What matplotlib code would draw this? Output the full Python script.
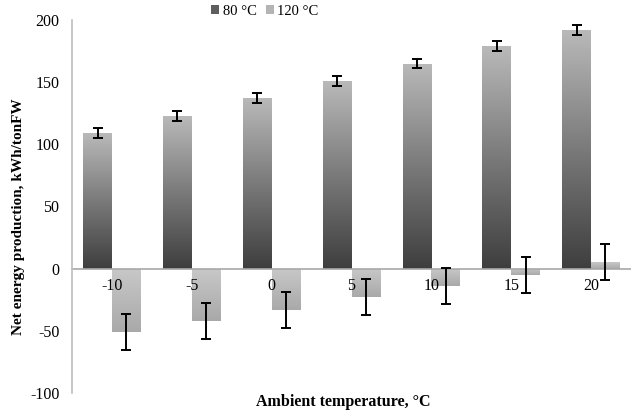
import numpy as np
import matplotlib.pyplot as plt
import matplotlib as mpl
from matplotlib.colors import LinearSegmentedColormap
from matplotlib.patches import Patch

mpl.rcParams.update({
    "font.family": ["Liberation Serif", "DejaVu Serif"],
    "font.size": 11,
    "axes.unicode_minus": False,
})

TEMPS = ["-10", "-5", "0", "5", "10", "15", "20"]
NET_80 = [109, 123, 137, 151, 165, 179, 192]
ERR_80 = [4, 4, 4, 4, 4, 4, 4]
NET_120 = [-51, -42, -33, -23, -14, -5, 5]
ERR_120 = [14.5, 14.5, 14.5, 14.5, 14.5, 14.5, 14.5]
SERIES = ["80 °C", "120 °C"]

CMAP_80 = LinearSegmentedColormap.from_list("g80", ["#3e3e3e", "#7a7a7a", "#b9b9b9"])
CMAP_120 = LinearSegmentedColormap.from_list("g120", ["#a9a9a9", "#c8c8c8"])


def gradient_bars(ax, bars, cmap):
    grad = np.linspace(0, 1, 256).reshape(-1, 1)
    for b in bars:
        x0, w = b.get_x(), b.get_width()
        y0, h = b.get_y(), b.get_height()
        lo, hi = min(y0, y0 + h), max(y0, y0 + h)
        img = ax.imshow(grad, cmap=cmap, aspect="auto", origin="lower",
                        extent=(x0, x0 + w, lo, hi), zorder=1,
                        interpolation="bicubic")
        img.set_clip_path(b)
        b.set_facecolor("none")


fig = plt.figure(figsize=(6.31, 4.12), dpi=100)
ax = fig.add_axes([72 / 631, 1 - 393 / 412, 1 - 72 / 631, (393 - 20) / 412])

x = np.arange(len(TEMPS))
w = 0.36
b80 = ax.bar(x - w / 2, NET_80, w, linewidth=0, zorder=1)
b120 = ax.bar(x + w / 2, NET_120, w, linewidth=0, zorder=1)
gradient_bars(ax, b80, CMAP_80)
gradient_bars(ax, b120, CMAP_120)

ax.errorbar(x - w / 2, NET_80, yerr=ERR_80, fmt="none", ecolor="black",
            elinewidth=1.4, capsize=3.5, capthick=1.4, zorder=3)
ax.errorbar(x + w / 2, NET_120, yerr=ERR_120, fmt="none", ecolor="black",
            elinewidth=1.4, capsize=3.5, capthick=1.4, zorder=3)

ax.set_xlim(-0.5, len(TEMPS) - 0.5)
ax.set_ylim(-100, 200)
ax.set_yticks([-100, -50, 0, 50, 100, 150, 200])
ax.set_xticks(x)
ax.set_xticklabels(TEMPS)
ax.tick_params(axis="y", length=0, pad=9, labelsize=11.5)
ax.tick_params(axis="x", length=0, pad=7, labelsize=11.5)

for s in ["top", "right"]:
    ax.spines[s].set_visible(False)
ax.spines["left"].set_color("#bfbfbf")
ax.spines["left"].set_linewidth(1.2)
ax.spines["bottom"].set_position(("data", 0))
ax.spines["bottom"].set_color("#a8a8a8")
ax.spines["bottom"].set_linewidth(1.2)
ax.spines["bottom"].set_zorder(2)

handles = [Patch(facecolor="#5e5e5e", edgecolor="none"),
           Patch(facecolor="#b4b4b4", edgecolor="none")]
fig.legend(handles, SERIES, loc="center", bbox_to_anchor=(0.42, 0.973),
           ncol=2, frameon=False, fontsize=10.5, handlelength=0.55,
           handleheight=0.55, handletextpad=0.25, columnspacing=0.6)

fig.text(19 / 631, 1 - 217 / 412, "Net energy production, kWh/tonFW",
         rotation=90, ha="center", va="center", fontweight="bold", fontsize=11)
fig.text(343 / 631, 1 - 402 / 412, "Ambient temperature, °C",
         ha="center", va="center", fontweight="bold", fontsize=11.5)

fig.savefig("out.png", dpi=100)
